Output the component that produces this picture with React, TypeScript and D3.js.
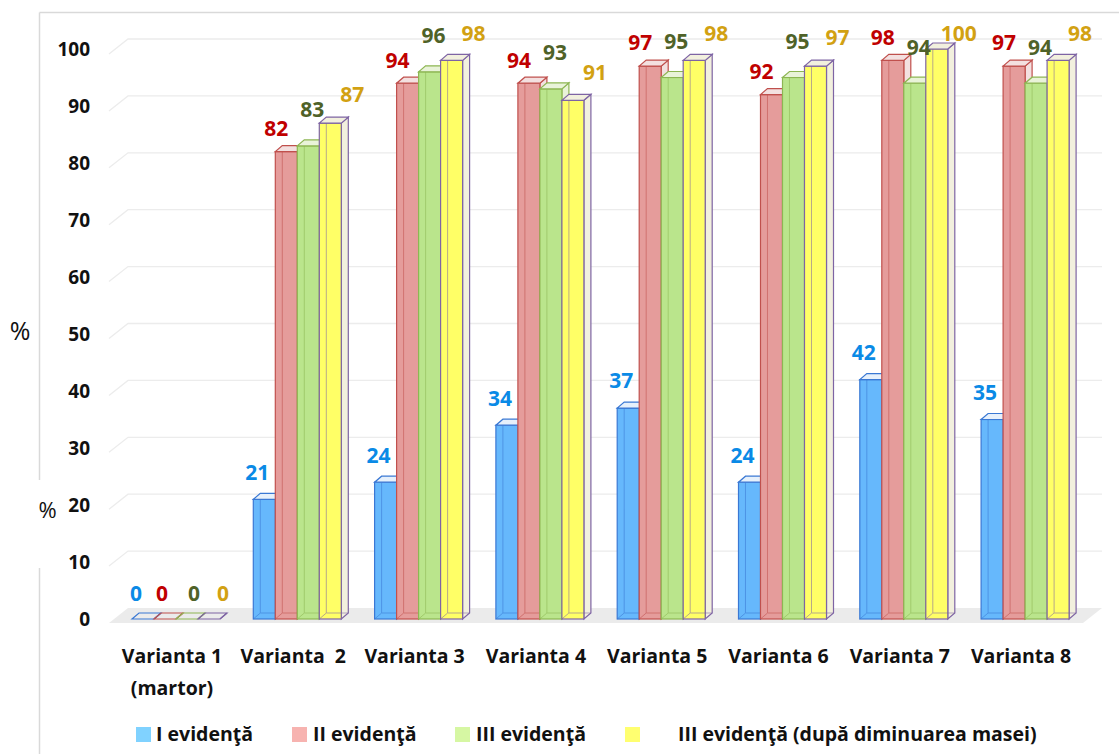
import React from "react";
import * as d3 from "d3";

// Categories (second entry is an optional second line)
const categories: string[][] = [
  ["Varianta 1", "(martor)"],
  ["Varianta  2"],
  ["Varianta 3"],
  ["Varianta 4"],
  ["Varianta 5"],
  ["Varianta 6"],
  ["Varianta 7"],
  ["Varianta 8"],
];

const seriesNames = [
  "I evidenţă",
  "II evidenţă",
  "III evidenţă",
  "III evidenţă (după diminuarea masei)",
];

const evidenta1 = [0, 21, 24, 34, 37, 24, 42, 35];
const evidenta2 = [0, 82, 94, 94, 97, 92, 98, 97];
const evidenta3 = [0, 83, 96, 93, 95, 95, 94, 94];
const evidenta3Masa = [0, 87, 98, 91, 98, 97, 100, 98];

const yTicks = [0, 10, 20, 30, 40, 50, 60, 70, 80, 90, 100];

const seriesValues = [evidenta1, evidenta2, evidenta3, evidenta3Masa];

// Per-series appearance
const styles = [
  { fill: "#66b8fc", stroke: "#3a78d4", light: "#e6f0fb", label: "#0a8ae6", swatch: "#80d2ff", labelDx: -7, labelDy: 27 },
  { fill: "#e59c9b", stroke: "#c0504d", light: "#f3e0e0", label: "#c00000", swatch: "#f7b3b0", labelDx: -10, labelDy: 23 },
  { fill: "#bae58c", stroke: "#8db653", light: "#e9f3d9", label: "#4f6228", swatch: "#d6f7a3", labelDx: 4, labelDy: 36 },
  { fill: "#ffff66", stroke: "#7e64a4", light: "#f2f0de", label: "#d2a112", swatch: "#ffff70", labelDx: 22, labelDy: 28 },
];
// Label offsets used for flat (zero) bars
const zeroLabelDx = [-7, -3, 7, 14];

const W = 1119;
const H = 754;
const FONT = "'Open Sans', 'DejaVu Sans', sans-serif";

export default function App() {
  // Bar front plane and back wall / floor front edge scales
  const yBar = d3.scaleLinear().domain([0, 100]).range([619, 49]);
  const yFloorFront = d3.scaleLinear().domain([0, 100]).range([623, 54]);
  const wallDx = 19;
  const wallDy = 15;
  const floorLeft = 109;
  const floorRight = 1083;

  const x0 = d3
    .scaleBand<number>()
    .domain(d3.range(categories.length))
    .range([132, 1069.1])
    .paddingInner(0.2745)
    .paddingOuter(0);
  const x1 = d3
    .scaleBand<number>()
    .domain(d3.range(seriesNames.length))
    .range([0, x0.bandwidth()]);

  const bw = x1.bandwidth();
  const dx = 7;
  const dy = 6;

  const grid = yTicks.filter((t) => t > 0);

  const bars: React.ReactNode[] = [];
  const labels: React.ReactNode[] = [];
  categories.forEach((_, ci) => {
    seriesValues.forEach((vals, si) => {
      const v = vals[ci];
      const st = styles[si];
      const x = (x0(ci) as number) + (x1(si) as number);
      const yt = yBar(v);
      const yb = yBar(0);
      const top = `${x},${yt} ${x + bw},${yt} ${x + bw + dx},${yt - dy} ${x + dx},${yt - dy}`;
      const side = `${x + bw},${yt} ${x + bw + dx},${yt - dy} ${x + bw + dx},${yb - dy} ${x + bw},${yb}`;
      const flat = yb - yt < 0.5;
      bars.push(
        <g key={`b-${ci}-${si}`}>
          <polygon points={side} fill={st.light} stroke={st.stroke} strokeWidth={1.2} />
          {!flat && (
            <rect x={x} y={yt} width={bw} height={yb - yt} fill={st.fill} stroke={st.stroke} strokeWidth={1.2} />
          )}
          {!flat && (
            <g stroke={st.stroke} strokeWidth={1} opacity={0.55} fill="none">
              <line x1={x + dx} y1={yt - dy} x2={x + dx} y2={yb - dy} />
              <line x1={x + dx} y1={yb - dy} x2={x + bw + dx} y2={yb - dy} />
              <line x1={x} y1={yb} x2={x + dx} y2={yb - dy} />
            </g>
          )}
          <polygon points={top} fill={flat ? "none" : st.light} stroke={st.stroke} strokeWidth={1.2} />
        </g>
      );
      const ly = flat ? yt - 25 : Math.max(34, yt - st.labelDy);
      const lx = x + bw / 2 + (flat ? zeroLabelDx[si] : st.labelDx);
      labels.push(
        <text
          key={`l-${ci}-${si}`}
          x={lx}
          y={ly}
          dy="0.35em"
          textAnchor="middle"
          fontFamily={FONT}
          fontWeight={700}
          fontSize={21}
          fill={st.label}
        >
          {v}
        </text>
      );
    });
  });

  const legendX = [136, 292, 455, 625];
  const legendTextX = [156, 313, 476, 678];

  return (
    <svg
      width={W}
      height={H}
      viewBox={`0 0 ${W} ${H}`}
      style={{ position: "absolute", left: 0, top: 0, background: "#ffffff" }}
    >
      <rect x={0} y={0} width={W} height={H} fill="#ffffff" />
      {/* outer frame */}
      <g stroke="#d9d9d9" strokeWidth={1.5}>
        <line x1={39.5} y1={12.5} x2={W} y2={12.5} />
        <line x1={39.5} y1={12.5} x2={39.5} y2={480} />
        <line x1={39.5} y1={568} x2={39.5} y2={H} />
      </g>

      {/* floor */}
      <polygon
        points={`${floorLeft},${yFloorFront(0)} ${floorRight},${yFloorFront(0)} ${floorRight + wallDx},${yFloorFront(0) - wallDy} ${floorLeft + wallDx},${yFloorFront(0) - wallDy}`}
        fill="#ebebeb"
      />

      {/* gridlines on the side and back walls */}
      <g stroke="#ececec" strokeWidth={1.3} fill="none">
        {grid.map((t) => (
          <polyline
            key={t}
            points={`${floorLeft},${yFloorFront(t)} ${floorLeft + wallDx},${yFloorFront(t) - wallDy} ${floorRight + wallDx},${yFloorFront(t) - wallDy}`}
          />
        ))}
      </g>

      {/* y tick labels */}
      {yTicks.map((t) => (
        <text
          key={t}
          x={90}
          y={yBar(t)}
          dy="0.35em"
          textAnchor="end"
          fontFamily={FONT}
          fontWeight={700}
          fontSize={19}
          fill="#111"
        >
          {t}
        </text>
      ))}

      {/* axis unit */}
      <text x={20} y={340} textAnchor="middle" fontFamily={FONT} fontSize={25} fill="#111">
        %
      </text>
      <text x={47.5} y={518} textAnchor="middle" fontFamily={FONT} fontSize={22} fill="#111">
        %
      </text>

      {bars}
      {labels}

      {/* category labels */}
      {categories.map((lines, ci) => (
        <text
          key={ci}
          x={(x0(ci) as number) + x0.bandwidth() / 2 - 4}
          y={663}
          textAnchor="middle"
          fontFamily={FONT}
          fontWeight={700}
          fontSize={19.5}
          fill="#111"
        >
          {lines.map((l, li) => (
            <tspan key={li} x={(x0(ci) as number) + x0.bandwidth() / 2 - 4} dy={li === 0 ? 0 : 32} style={{ whiteSpace: "pre" }}>
              {l}
            </tspan>
          ))}
        </text>
      ))}

      {/* legend */}
      {seriesNames.map((name, si) => (
        <g key={name}>
          <rect x={legendX[si]} y={727} width={15} height={15} fill={styles[si].swatch} />
          <text
            x={legendTextX[si]}
            y={741}
            fontFamily={FONT}
            fontWeight={700}
            fontSize={19.5}
            fill="#111"
          >
            {name}
          </text>
        </g>
      ))}
    </svg>
  );
}
